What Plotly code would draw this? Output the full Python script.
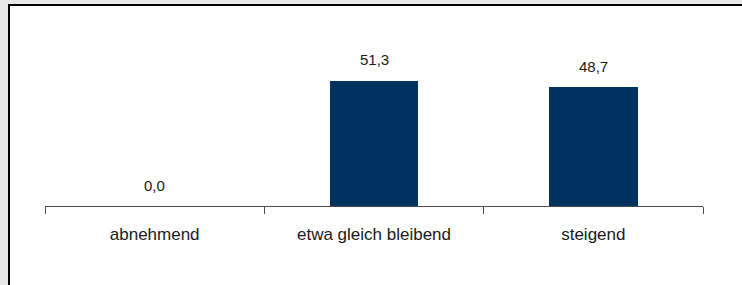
import plotly.graph_objects as go

categories = ["abnehmend", "etwa gleich bleibend", "steigend"]
values = [0.0, 51.3, 48.7]
labels = [f"{v:.1f}".replace(".", ",") for v in values]

W, H = 742, 285
ml, mr, mt, mb = 45, 39, 20, 79
pw, ph = W - ml - mr, H - mt - mb

def px_x(p):
    return (p - ml) / pw

def px_y(p):
    return (H - mb - p) / ph

fig = go.Figure()
fig.add_trace(go.Bar(
    x=categories, y=values,
    marker=dict(color="#00325f", line=dict(width=0)),
    width=0.405, hoverinfo="skip",
))

for c, v, t in zip(categories, values, labels):
    fig.add_annotation(x=c, y=v, text=t, showarrow=False, yshift=21,
                       font=dict(family="Liberation Sans, Arial", size=15, color="#1a1a1a"))

fig.add_shape(type="rect", xref="paper", yref="paper",
              x0=px_x(9), x1=px_x(800), y0=px_y(330), y1=px_y(5),
              line=dict(color="black", width=2), fillcolor="white", layer="below")

fig.update_layout(
    width=W, height=H,
    margin=dict(l=ml, r=mr, t=mt, b=mb, pad=0),
    paper_bgcolor="#e8e8e8", plot_bgcolor="rgba(0,0,0,0)",
    showlegend=False, bargap=0,
    font=dict(family="Liberation Sans, Arial", size=17, color="#1a1a1a"),
)
fig.update_xaxes(type="category", showline=True, linecolor="#4d4d4d", linewidth=1,
                 ticks="outside", tickson="boundaries", ticklen=7, tickcolor="#4d4d4d",
                 tickwidth=1, showgrid=False, zeroline=False, ticklabelstandoff=13,
                 tickfont=dict(size=17), fixedrange=True)
fig.update_yaxes(range=[0, ph / 2.437], visible=False, showgrid=False, zeroline=False, fixedrange=True)

fig.write_html("out.html", config={"displayModeBar": False},
               post_script="document.body.style.margin='0';document.body.style.overflow='hidden';")
